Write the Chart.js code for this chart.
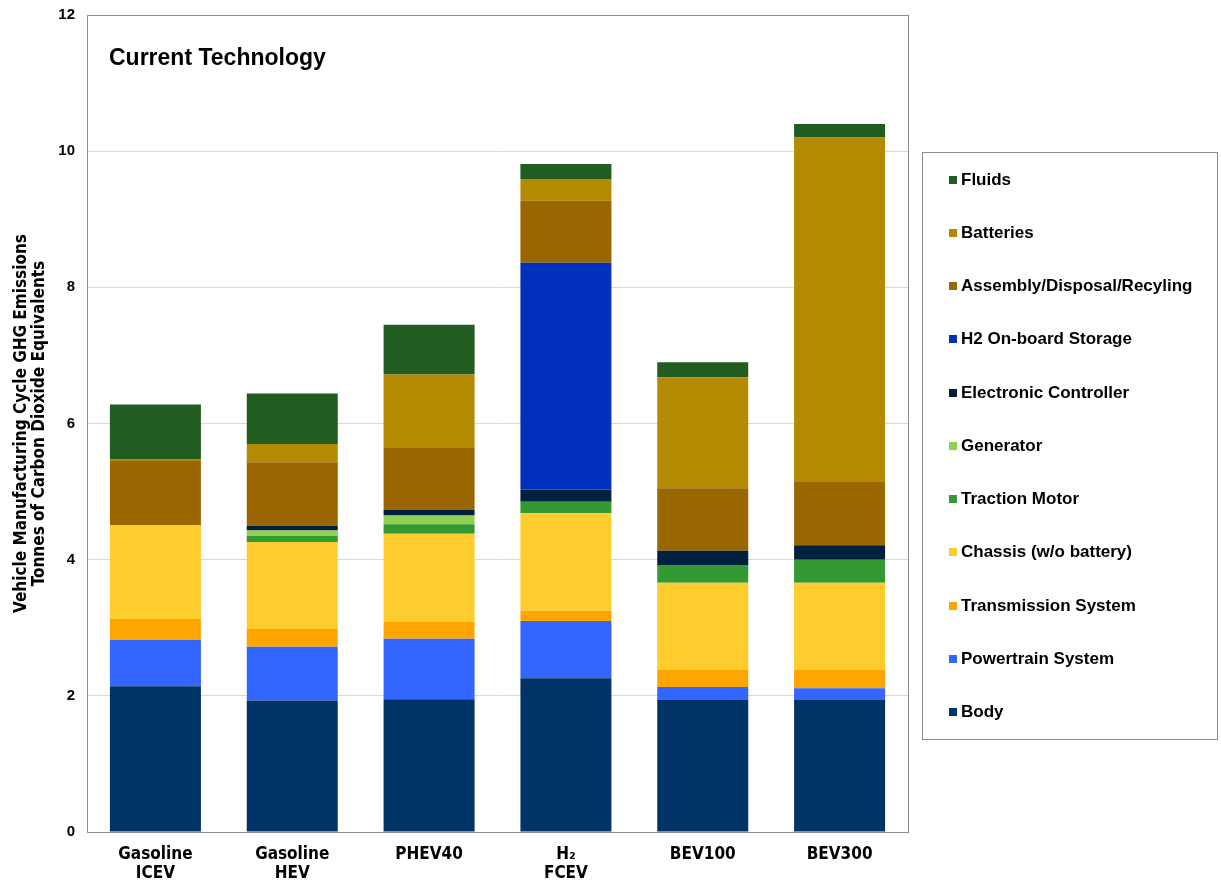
<!DOCTYPE html>
<html>
<head>
<meta charset="utf-8">
<script src="https://cdn.jsdelivr.net/npm/chart.js@4.4.1/dist/chart.umd.min.js"></script>
<style>
  body { margin: 0; background: #fff; }
  #wrap { position: relative; width: 1221px; height: 882px; }
  #titulo {
    position: absolute; left: 109px; top: 44px;
    font: bold 23px "Liberation Sans", Arial, sans-serif; color: #000;
  }
  #legenda {
    position: absolute; left: 922px; top: 152px; width: 294px; height: 586px;
    border: 1px solid #8c8c8c; display: flex; flex-direction: column; justify-content: space-around;
  }
  .item { display: flex; align-items: center; padding-left: 26px;
    font: bold 17px "Liberation Sans", Arial, sans-serif; color: #000; }
  .item span.box { width: 8px; height: 8px; margin-right: 4px; display: inline-block; }
</style>
</head>
<body>
<div id="wrap">
  <canvas id="grafico"></canvas>
  <div id="titulo">Current Technology</div>
  <div id="legenda"></div>
</div>
<script>
// categorias (eixo x)
const categorias = [["Gasoline", "ICEV"], ["Gasoline", "HEV"], "PHEV40", ["H\u2082", "FCEV"], "BEV100", "BEV300"];

// valores de cada componente (tCO2e)
const body = [2.14, 1.93, 1.95, 2.26, 1.94, 1.94];
const powertrain = [0.68, 0.79, 0.89, 0.84, 0.19, 0.17];
const transmission = [0.31, 0.26, 0.25, 0.15, 0.25, 0.27];
const chassis = [1.38, 1.28, 1.29, 1.43, 1.28, 1.28];
const tractionMotor = [0, 0.09, 0.14, 0.17, 0.26, 0.34];
const generator = [0, 0.08, 0.13, 0, 0, 0];
const controller = [0, 0.07, 0.08, 0.18, 0.21, 0.21];
const h2Storage = [0, 0, 0, 3.33, 0, 0];
const assembly = [0.94, 0.93, 0.92, 0.91, 0.92, 0.93];
const batteries = [0.03, 0.27, 1.07, 0.32, 1.63, 5.06];
const fluids = [0.80, 0.74, 0.73, 0.22, 0.22, 0.20];

const yTicks = [0, 2, 4, 6, 8, 10, 12];

const series = [
  { label: "Body", data: body, cor: "#003366" },
  { label: "Powertrain System", data: powertrain, cor: "#3366ff" },
  { label: "Transmission System", data: transmission, cor: "#ffa500" },
  { label: "Chassis (w/o battery)", data: chassis, cor: "#ffcc2e" },
  { label: "Traction Motor", data: tractionMotor, cor: "#339933" },
  { label: "Generator", data: generator, cor: "#92d050" },
  { label: "Electronic Controller", data: controller, cor: "#00203f" },
  { label: "H2 On-board Storage", data: h2Storage, cor: "#0030bc" },
  { label: "Assembly/Disposal/Recyling", data: assembly, cor: "#996600" },
  { label: "Batteries", data: batteries, cor: "#b38a00" },
  { label: "Fluids", data: fluids, cor: "#215c21" },
];

const fonteNarrow = "'Liberation Sans Narrow', 'Arial Narrow', 'DejaVu Sans Condensed', sans-serif";

// borda da área do gráfico
const bordaPlot = {
  id: "bordaPlot",
  afterDraw(chart) {
    const { ctx, chartArea: a } = chart;
    ctx.save();
    ctx.strokeStyle = "#8c8c8c";
    ctx.lineWidth = 1;
    ctx.strokeRect(Math.round(a.left) + 0.5, Math.round(a.top) + 0.5, Math.round(a.right - a.left), Math.round(a.bottom - a.top));
    ctx.restore();
  }
};

const grafico = new Chart(document.getElementById("grafico"), {
  type: "bar",
  data: {
    labels: categorias,
    datasets: series.map(s => ({
      label: s.label,
      data: s.data,
      backgroundColor: s.cor,
      borderWidth: 0,
      categoryPercentage: 1,
      barPercentage: 0.665,
    }))
  },
  options: {
    responsive: true,
    maintainAspectRatio: false,
    animation: false,
    layout: { padding: { top: 15, right: 313, left: 0, bottom: 0 } },
    plugins: {
      legend: { display: false },
      tooltip: { enabled: false }
    },
    scales: {
      x: {
        stacked: true,
        grid: { display: false },
        border: { display: false },
        ticks: {
          color: "#000",
          padding: 5,
          font: { family: fonteNarrow, size: 17, weight: "bold", lineHeight: 1.12 }
        },
        afterFit(scale) { scale.height = 50; }
      },
      y: {
        stacked: true,
        min: 0,
        max: 12,
        afterBuildTicks(scale) { scale.ticks = yTicks.map(v => ({ value: v })); },
        grid: { color: "#d9d9d9", drawTicks: false },
        border: { display: false },
        ticks: {
          color: "#000",
          padding: 12,
          font: { family: "'Liberation Sans', Arial, sans-serif", size: 15, weight: "bold" }
        },
        title: {
          display: true,
          text: ["Vehicle Manufacturing Cycle GHG Emissions", "Tonnes of Carbon Dioxide Equivalents"],
          color: "#000",
          padding: { top: 12, bottom: 0 },
          font: { family: fonteNarrow, size: 17, weight: "bold", lineHeight: 1.1 }
        },
        afterFit(scale) {
          scale.width = 87;
          scale.paddingTop = 0;
          scale.paddingBottom = 0;
        }
      }
    }
  },
  plugins: [bordaPlot]
});

// legenda em HTML, ordem invertida (Fluids no topo)
const legenda = document.getElementById("legenda");
legenda.innerHTML = [...series].reverse().map(s => `
  <div class="item"><span class="box" style="background:${s.cor}"></span>${s.label}</div>
`).join("");
</script>
</body>
</html>
